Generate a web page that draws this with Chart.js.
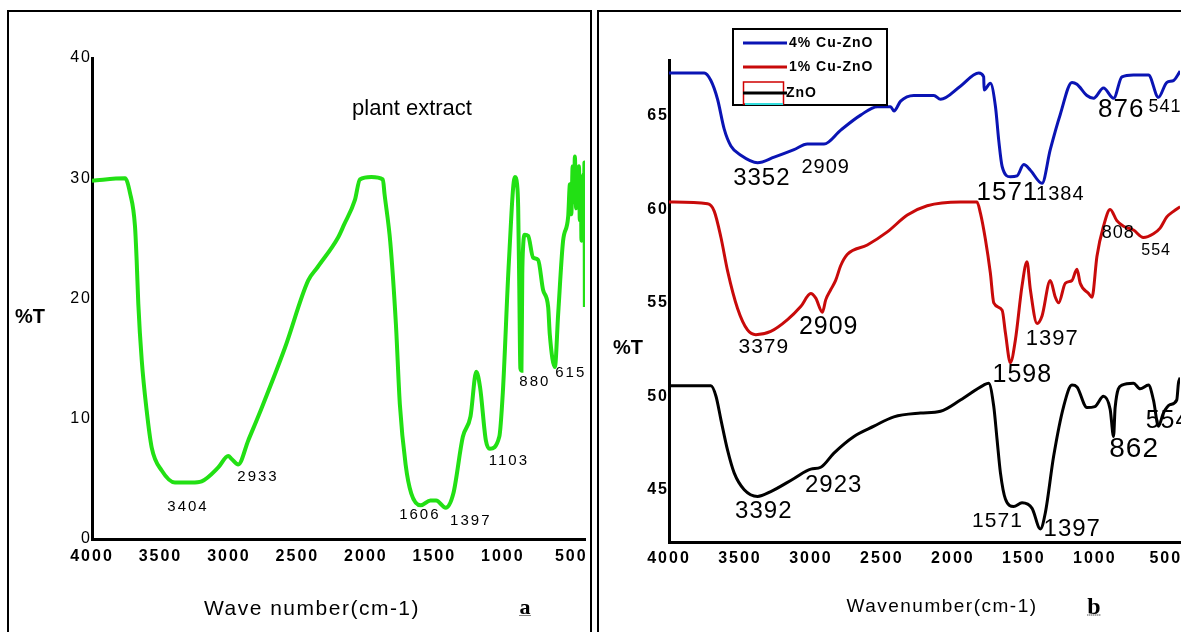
<!DOCTYPE html>
<html lang="en">
<head>
<meta charset="UTF-8" />
<title>FTIR spectra</title>
<script src="https://cdn.jsdelivr.net/npm/chart.js"></script>
<style>
  body {
    margin: 0;
    width: 1181px;
    height: 632px;
    overflow: hidden;
    position: relative;
    background: #fff;
    font-family: 'Liberation Sans', Arial, sans-serif;
  }
  .frame {
    position: absolute;
    border: 2px solid #000;
    border-bottom: none;
  }
  #frameA { left: 7px; top: 10px; width: 581px; height: 640px; }
  #frameB { left: 597px; top: 10px; width: 700px; height: 640px; }
  canvas { position: absolute; top: 0; }
  #chartA { left: 0; }
  #chartB { left: 598px; }
  .t {
    position: absolute;
    line-height: 1;
    white-space: nowrap;
    transform: translate(-50%, -50%);
    color: #000;
  }
</style>
</head>
<body>
  <div class="frame" id="frameA"></div>
  <div class="frame" id="frameB"></div>

  <canvas id="chartA" width="596" height="632"></canvas>
  <canvas id="chartB" width="640" height="632"></canvas>

  <div class="t" style="left:412px;top:108px;font-size:22px;">plant extract</div>
  <div class="t" style="left:30px;top:316px;font-size:20px;font-weight:bold;">%T</div>
  <div class="t" style="left:312px;top:607px;font-size:21px;letter-spacing:1.5px;">Wave number(cm-1)</div>
  <div class="t" style="left:525px;top:607px;font:bold 22px 'Liberation Serif',serif;text-decoration:underline dotted 1px;">a</div>

  <div class="t" style="left:628px;top:347px;font-size:20px;font-weight:bold;">%T</div>
  <div class="t" style="left:942px;top:605px;font-size:19px;letter-spacing:1.5px;">Wavenumber(cm-1)</div>
  <div class="t" style="left:1094px;top:606px;font:bold 24px 'Liberation Serif',serif;text-decoration:underline dotted 1px;">b</div>

<script>
  // ---- panel a : plant extract (wavenumber cm-1, %T) ----
  const wnPlant = [4000, 3759, 3723, 3686, 3674, 3662, 3637, 3601, 3564, 3491, 3394, 3272, 3199, 3078,
    3005, 2980, 2932, 2859, 2761, 2591, 2421, 2353, 2202, 2161, 2080, 2044, 1960, 1876, 1864, 1822, 1781,
    1752, 1710, 1669, 1599, 1529, 1487, 1417, 1361, 1292, 1236, 1194, 1166, 1124, 1095, 1026, 1000,
    956, 912, 896, 888, 880, 872, 864, 858, 852, 840, 815, 779, 742, 706, 669, 657, 620, 596, 560,
    523, 510, 500, 490, 480, 474, 465, 458, 450, 444, 438, 430, 426, 418, 414, 408, 404, 401];
  const tPlant = [29.8, 30.0, 28.8, 26.0, 23.2, 19.6, 14.9, 10.7, 7.6, 5.7, 4.7, 4.7, 4.8, 5.95,
    6.9, 6.65, 6.2, 8.2, 10.9, 15.9, 21.5, 22.6, 25.1, 26.1, 28.2, 29.9, 30.1, 29.9, 28.7, 24.7, 17.9,
    11.2, 6.2, 3.8, 2.8, 3.2, 3.2, 2.6, 3.8, 8.5, 10.2, 13.9, 12.6, 8.2, 7.5, 8.5, 12.2,
    23.0, 30.1, 29.5, 27.6, 21.0, 14.2, 14.0, 22.0, 24.3, 25.3, 25.2, 23.4, 23.2, 20.7, 19.3, 17.0, 14.3, 18.7, 24.8,
    26.8, 29.5, 27.0, 31.0, 28.0, 31.8, 27.5, 30.5, 28.0, 31.0, 26.5, 30.0, 24.8, 29.0, 30.3, 25.0, 31.3, 19.3];

  // ---- panel b : Cu-ZnO samples ----
  const wnCu4 = [4000, 3752, 3705, 3658, 3611, 3564, 3494, 3376, 3259, 3119, 3025, 2908, 2790, 2650,
    2532, 2439, 2415, 2368, 2275, 2134, 2087, 1947, 1818, 1783, 1780, 1736, 1700, 1677, 1653, 1595,
    1548, 1501, 1454, 1372, 1314, 1243, 1161, 1126, 1056, 1009, 939, 868, 809, 728, 622, 552, 493, 446, 399];
  const tCu4 = [67.3, 67.3, 66.9, 65.9, 64.3, 63.4, 62.9, 62.5, 62.8, 63.2, 63.5, 63.5, 64.25, 65.05,
    65.5, 65.5, 65.27, 65.8, 66.1, 66.1, 65.9, 66.6, 67.3, 67.1, 66.4, 66.75, 65.5, 63.7, 62.3, 61.75,
    61.8, 62.4, 62.1, 61.4, 63.2, 65.1, 66.8, 66.7, 66.1, 65.95, 66.5, 65.95, 67.1, 67.2, 67.2, 66.0, 66.8, 66.9, 67.4];

  const wnCu1 = [4000, 3728, 3681, 3634, 3587, 3517, 3447, 3388, 3283, 3165, 3072, 3001, 2966, 2919,
    2896, 2861, 2826, 2790, 2743, 2603, 2462, 2321, 2181, 1947, 1830, 1806, 1771, 1736, 1712, 1653,
    1630, 1595, 1560, 1513, 1478, 1454, 1407, 1372, 1314, 1278, 1255, 1208, 1161, 1126, 1103, 1044,
    1020, 985, 939, 892, 845, 798, 728, 658, 587, 540, 493, 446, 399];
  const tCu1 = [60.4, 60.3, 59.9, 58.5, 56.7, 54.7, 53.55, 53.3, 53.47, 54.1, 54.8, 55.5, 55.25, 54.5,
    55.16, 55.7, 56.2, 57.0, 57.6, 58.1, 58.8, 59.7, 60.2, 60.4, 60.4, 59.8, 58.4, 56.6, 55.0, 54.6,
    53.4, 51.8, 53.0, 55.9, 57.2, 55.7, 53.9, 54.3, 56.2, 55.3, 55.0, 56.05, 56.2, 56.8, 56.05, 55.5,
    55.3, 57.5, 59.1, 60.0, 59.4, 59.1, 58.9, 58.5, 58.7, 59.0, 59.6, 59.9, 60.15];

  const wnZnO = [4000, 3705, 3669, 3634, 3587, 3541, 3470, 3376, 3283, 3119, 3001, 2931, 2838, 2697,
    2556, 2416, 2228, 2087, 1947, 1783, 1748, 1712, 1689, 1665, 1630, 1572, 1513, 1442, 1384, 1349,
    1290, 1220, 1161, 1126, 1056, 1000, 939, 892, 868, 857, 809, 728, 681, 622, 587, 552, 517, 470, 423, 411, 399];
  const tZnO = [50.56, 50.56, 50.0, 48.74, 47.1, 45.9, 45.0, 44.64, 44.9, 45.6, 46.1, 46.2, 46.96, 47.85,
    48.4, 48.9, 49.1, 49.2, 49.8, 50.6, 50.7, 49.45, 47.7, 45.9, 44.5, 44.1, 44.3, 44.0, 42.9, 43.75,
    46.8, 49.45, 50.6, 50.5, 49.4, 49.45, 50.0, 49.3, 47.85, 49.4, 50.6, 50.7, 50.4, 50.6, 49.8, 48.4, 49.1, 49.55, 49.8, 50.7, 51.0];

  const seriesNames = ['4% Cu-ZnO', '1% Cu-ZnO', 'ZnO'];

  // tick labels
  const xTicks = [4000, 3500, 3000, 2500, 2000, 1500, 1000, 500];
  const yTicksA = [0, 10, 20, 30, 40];
  const yTicksB = [45, 50, 55, 60, 65];

  // peak labels: text, wavenumber and %T where the label sits
  const peaksA = [
    ['3404', 3299, 2.66], ['2933', 2788, 5.16], ['1606', 1606, 2.0], ['1397', 1234, 1.5],
    ['1103', 956, 6.49], ['880', 766, 13.06], ['615', 504, 13.8]
  ];
  const peaksB = [
    ['3352', 3346, 61.68], ['2909', 2896, 62.27], ['1571', 1616, 60.88], ['1384', 1243, 60.78],
    ['876', 814, 65.32], ['541', 505, 65.48],
    ['3379', 3332, 52.65], ['2909', 2875, 53.72], ['1598', 1511, 51.15], ['1397', 1300, 53.07],
    ['808', 835, 58.74], ['554', 568, 57.78],
    ['3392', 3332, 43.82], ['2923', 2840, 45.21], ['1571', 1686, 43.29], ['1397', 1159, 42.86],
    ['862', 723, 47.14], ['554', 484, 48.69]
  ];
  // font size for each label in peaksB (same order)
  const peakSizesB = [24, 20, 26, 20, 26, 18, 21, 25, 25, 22, 18, 16, 24, 24, 21, 24, 28, 25];

  const pts = (xs, ys) => xs.map((x, i) => ({ x: x, y: ys[i] }));
  const FONT = '"Liberation Sans", Arial, sans-serif';

  // draws the peak numbers at data positions, and sets letter spacing for ticks
  const peakText = {
    id: 'peakText',
    beforeDraw(chart, args, opts) {
      chart.ctx.letterSpacing = opts.tickSpacing || '0px';
    },
    afterDatasetsDraw(chart, args, opts) {
      const ctx = chart.ctx;
      const xs = chart.scales.x, ys = chart.scales.y;
      ctx.save();
      ctx.fillStyle = '#000';
      ctx.textAlign = 'center';
      ctx.textBaseline = 'middle';
      ctx.letterSpacing = opts.spacing || '0px';
      opts.items.forEach((p, i) => {
        const size = opts.sizes ? opts.sizes[i] : opts.size;
        ctx.font = size + 'px ' + FONT;
        ctx.fillText(p[0], xs.getPixelForValue(p[1]), ys.getPixelForValue(p[2]));
      });
      ctx.restore();
    }
  };

  // boxed legend of panel b
  const boxLegend = {
    id: 'boxLegend',
    afterDraw(chart) {
      const ctx = chart.ctx;
      const sets = chart.data.datasets;
      ctx.save();
      ctx.letterSpacing = '1px';
      ctx.fillStyle = '#fff';
      ctx.fillRect(135, 29, 154, 76);
      ctx.strokeStyle = '#000';
      ctx.lineWidth = 2;
      ctx.strokeRect(135, 29, 154, 76);
      ctx.font = 'bold 14px ' + FONT;
      ctx.textBaseline = 'middle';
      ctx.textAlign = 'left';
      const rows = [43, 67, 93];
      sets.forEach((ds, i) => {
        const y = rows[i];
        if (i === 2) {
          ctx.strokeStyle = '#d00000';
          ctx.lineWidth = 1.5;
          ctx.strokeRect(145.5, 82, 40, 22);
          ctx.strokeStyle = '#33dddd';
          ctx.lineWidth = 2;
          ctx.beginPath(); ctx.moveTo(147, 104); ctx.lineTo(185, 104); ctx.stroke();
        }
        ctx.strokeStyle = ds.borderColor;
        ctx.lineWidth = 3;
        ctx.beginPath(); ctx.moveTo(145, y); ctx.lineTo(189, y); ctx.stroke();
        ctx.fillStyle = '#000';
        ctx.fillText(ds.label, i === 2 ? 188 : 191, y);
      });
      ctx.restore();
    }
  };

  function xScale(height, padding) {
    return {
      type: 'linear', reverse: true, min: 400, max: 4000,
      afterBuildTicks: s => { s.ticks = xTicks.map(v => ({ value: v })); },
      afterFit: s => { s.height = height; },
      grid: { display: false, drawTicks: false },
      border: { display: true, width: 3, color: '#000' },
      ticks: { padding: padding, color: '#000', autoSkip: false, maxRotation: 0,
        font: { family: FONT, size: 16, weight: 'bold' }, callback: v => String(v) }
    };
  }

  function yScale(min, max, ticks, width, weight) {
    return {
      min: min, max: max,
      afterBuildTicks: s => { s.ticks = ticks.map(v => ({ value: v })); },
      afterFit: s => { s.width = width; },
      grid: { display: false, drawTicks: false },
      border: { display: true, width: 3, color: '#000' },
      ticks: { padding: 0, color: '#000', font: { family: FONT, size: 16, weight: weight },
        callback: v => String(v) }
    };
  }

  new Chart(document.getElementById('chartA'), {
    type: 'line',
    data: {
      datasets: [{
        label: 'plant extract',
        data: pts(wnPlant, tPlant),
        borderColor: '#22e014',
        borderWidth: 4,
        pointRadius: 0,
        cubicInterpolationMode: 'monotone'
      }]
    },
    options: {
      responsive: false,
      animation: false,
      devicePixelRatio: 1,
      layout: { padding: { left: 0, top: 58, right: 11, bottom: 0 } },
      plugins: {
        legend: { display: false },
        tooltip: { enabled: false },
        peakText: { items: peaksA, size: 15, spacing: '2px', tickSpacing: '2px' }
      },
      scales: {
        x: xScale(93, 8),
        y: yScale(0, 40, yTicksA, 92, 'normal')
      }
    },
    plugins: [peakText]
  });

  const colorsB = ['#0a14b4', '#c80a0a', '#000000'];
  const dataB = [pts(wnCu4, tCu4), pts(wnCu1, tCu1), pts(wnZnO, tZnO)];

  new Chart(document.getElementById('chartB'), {
    type: 'line',
    data: {
      datasets: dataB.map((d, i) => ({
        label: seriesNames[i],
        data: d,
        borderColor: colorsB[i],
        borderWidth: 3,
        pointRadius: 0,
        cubicInterpolationMode: 'monotone'
      }))
    },
    options: {
      responsive: false,
      animation: false,
      devicePixelRatio: 1,
      layout: { padding: { left: 0, top: 60, right: 58, bottom: 0 } },
      plugins: {
        legend: { display: false },
        tooltip: { enabled: false },
        peakText: { items: peaksB, sizes: peakSizesB, spacing: '1px', tickSpacing: '2px' }
      },
      scales: {
        x: xScale(90, 7),
        y: yScale(42.2, 68, yTicksB, 71, 'bold')
      }
    },
    plugins: [peakText, boxLegend]
  });
</script>
</body>
</html>
